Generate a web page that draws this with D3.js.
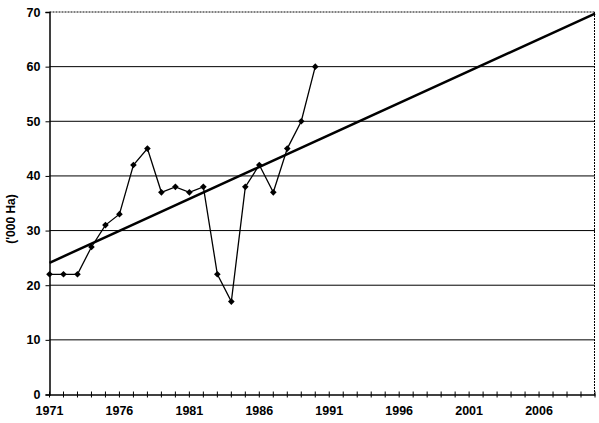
<!DOCTYPE html>
<html><head><meta charset="utf-8">
<script src="https://cdn.jsdelivr.net/npm/d3@7"></script>
<style>body{margin:0;background:#fff}svg{display:block}</style>
</head><body>
<script>
const years = [1971,1972,1973,1974,1975,1976,1977,1978,1979,1980,1981,1982,1983,1984,1985,1986,1987,1988,1989,1990];
const values = [22,22,22,27,31,33,42,45,37,38,37,38,22,17,38,42,37,45,50,60];
const trendYears = [1971,2010];
const trendValues = [24.1,69.7];
const xTickLabels = [1971,1976,1981,1986,1991,1996,2001,2006];
const yTicks = [0,10,20,30,40,50,60,70];
const yTitle = "('000 Ha)";

const W=599,H=423;
const svg=d3.select("body").append("svg").attr("width",W).attr("height",H);
const x=d3.scaleLinear().domain([1971,2010]).range([49.5,595]);
const y=d3.scaleLinear().domain([0,70]).range([394.5,12]);

// gridlines
svg.append("g").selectAll("line").data(yTicks.filter(d=>d>0&&d<70)).join("line")
 .attr("x1",x(1971)).attr("x2",x(2010)).attr("y1",d=>y(d)).attr("y2",d=>y(d))
 .attr("stroke","#000").attr("stroke-width",1);
// top & right border dotted
svg.append("line").attr("x1",x(1971)).attr("x2",x(2010)).attr("y1",y(70)).attr("y2",y(70))
 .attr("stroke","#000").attr("stroke-width",1).attr("stroke-dasharray","2,1");
svg.append("line").attr("x1",x(2010)-0.5).attr("x2",x(2010)-0.5).attr("y1",y(70)).attr("y2",y(0))
 .attr("stroke","#000").attr("stroke-width",1).attr("stroke-dasharray","2,1");

// y axis
const ya=svg.append("g").attr("transform",`translate(${x(1971)},0)`)
 .call(d3.axisLeft(y).tickValues(yTicks).tickSize(4).tickPadding(5).tickFormat(d3.format("d")));
ya.select(".domain").attr("stroke-width",1.5);
ya.selectAll("text").attr("font-family","Liberation Sans, Arial, sans-serif").attr("font-weight","bold").attr("font-size",12.5).attr("fill","#000");

// x axis
const xa=svg.append("g").attr("transform",`translate(0,${y(0)})`)
 .call(d3.axisBottom(x).tickValues(d3.range(1971,2011)).tickSize(0).tickFormat(""));
xa.select(".domain").attr("stroke-width",1.5);
xa.selectAll(".tick line").remove();
svg.append("g").selectAll("line").data(d3.range(1971,2011)).join("line")
 .attr("x1",d=>x(d)).attr("x2",d=>x(d)).attr("y1",y(0)-3).attr("y2",y(0)+3).attr("stroke","#000");
svg.append("g").selectAll("text").data(xTickLabels).join("text")
 .attr("x",d=>x(d)).attr("y",y(0)+20).attr("text-anchor","middle")
 .attr("font-family","Liberation Sans, Arial, sans-serif").attr("font-weight","bold").attr("font-size",12.5)
 .text(d=>d);

// y title
svg.append("text").attr("transform",`translate(15,219) rotate(-90)`).attr("text-anchor","middle")
 .attr("font-family","Liberation Sans, Arial, sans-serif").attr("font-weight","bold").attr("font-size",12)
 .text(yTitle);

// trend line
svg.append("path").datum(trendYears.map((d,i)=>[d,trendValues[i]]))
 .attr("d",d3.line().x(d=>x(d[0])).y(d=>y(d[1])))
 .attr("fill","none").attr("stroke","#000").attr("stroke-width",2.5);

// data line
const pts=years.map((d,i)=>[d,values[i]]);
svg.append("path").datum(pts).attr("d",d3.line().x(d=>x(d[0])).y(d=>y(d[1])))
 .attr("fill","none").attr("stroke","#000").attr("stroke-width",1.3);
svg.append("g").selectAll("path").data(pts).join("path")
 .attr("transform",d=>`translate(${x(d[0])},${y(d[1])}) rotate(45)`)
 .attr("d",d3.symbol(d3.symbolSquare,22)).attr("fill","#000");
</script>
</body></html>
